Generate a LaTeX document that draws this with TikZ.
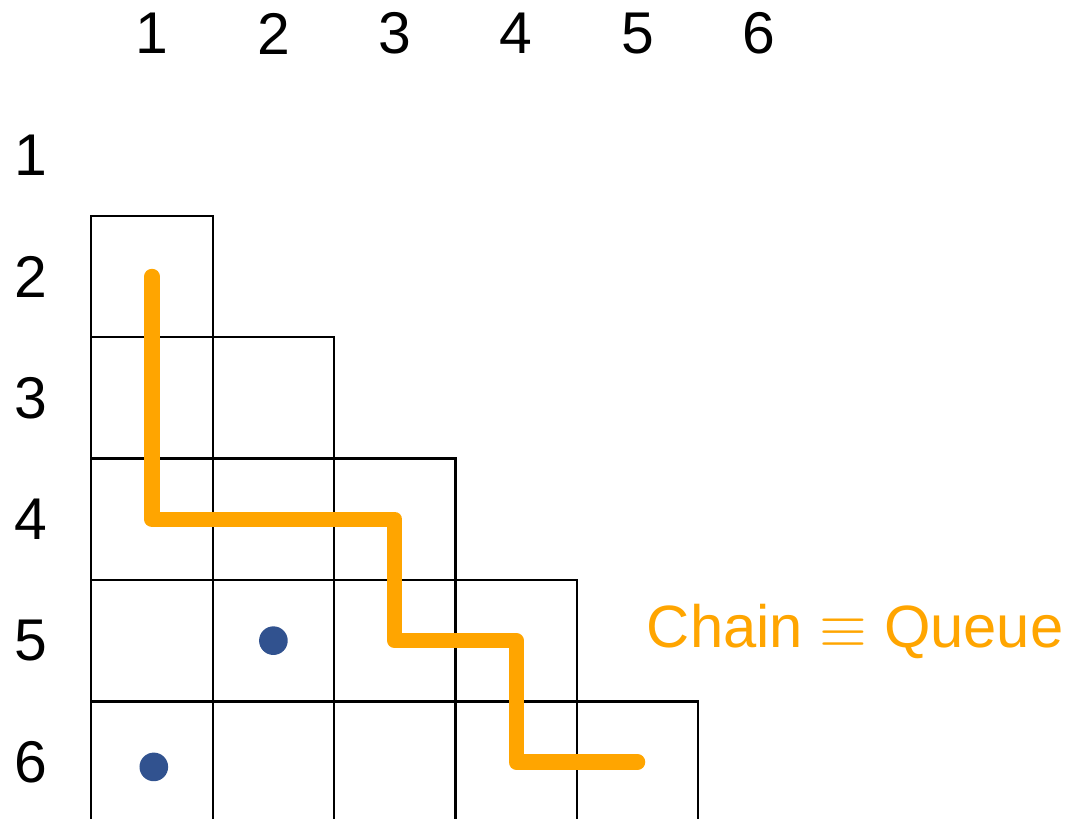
\documentclass[tikz,border=0pt]{standalone}
\usepackage{fontspec}
\setmainfont{Liberation Sans}
\usepackage{xcolor}
\usepackage{tikz}
\usetikzlibrary{positioning,calc}

\definecolor{chainorange}{RGB}{255,165,0}
\definecolor{dotblue}{RGB}{49,82,143}

\begin{document}
\begin{tikzpicture}[
      font=\fontsize{13.8}{16}\selectfont,
      idx/.style={inner sep=0pt},
      cell/.style={draw, line width=0.55pt},
      chain/.style={draw=chainorange, line width=3.6pt, line cap=round, line join=round},
      mark dot/.style={fill=dotblue},
      lbl/.style={text=chainorange, inner sep=0pt, anchor=base west,
                  font=\fontsize{14}{16}\selectfont}]

    \useasboundingbox (-0.252,0.277) rectangle (8.570,-6.461);
    \clip (-0.252,0.277) rectangle (8.570,-6.461);

    % column and row indices
    \foreach \j in {1,...,6}
      \node[idx] (col\j) at (\j,0) {\j};
    \foreach \i in {1,...,6}
      \node[idx] (row\i) at (0,-\i) {\i};

    % lower triangle of cells, c<row><col> at each centre
    \foreach \i in {2,...,6} {
      \pgfmathtruncatemacro{\last}{\i-1}
      \foreach \j in {1,...,\last} {
        \draw[cell] (\j-0.5,-\i+0.5) rectangle (\j+0.5,-\i-0.5);
        \coordinate (c\i\j) at (\j,-\i);
      }
    }

    \draw[chain] (c21) -- (c41) -- (c43) -- (c53) -- (c54) -- (c64) -- (c65);

    \fill[mark dot] (c52) circle (0.118);
    \fill[mark dot] ($(c61)+(0.015,-0.04)$) circle (0.118);

    \node[lbl] (eq) at (5.07,-5.06) {Chain $\equiv$ Queue};
  \end{tikzpicture}
\end{document}
